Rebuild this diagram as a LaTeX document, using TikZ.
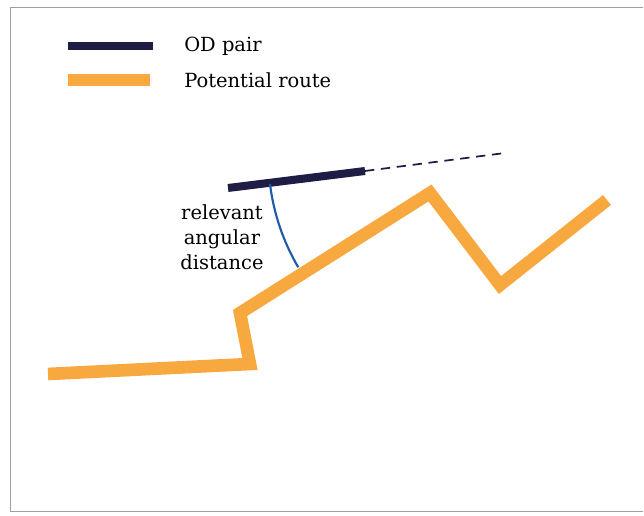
\documentclass[tikz,border=0pt]{standalone}
\usepackage{fontspec}
\setmainfont{DejaVu Serif}
\usetikzlibrary{calc}
\definecolor{odnavy}{RGB}{31,28,70}
\definecolor{routeorange}{RGB}{247,168,62}
\definecolor{arcblue}{RGB}{30,90,170}
\tikzset{
  odline/.style={color=odnavy, line width=6pt},
  routeline/.style={color=routeorange, line width=9.5pt, line join=miter},
  legendtext/.style={anchor=west, inner sep=0.75pt, font=\fontsize{14.6}{17}\selectfont},
}
\begin{document}
\begin{tikzpicture}[x=0.75pt,y=0.75pt,yscale=-1,xscale=1]
% frame
\useasboundingbox (0,0) rectangle (644,516);
\draw [color={rgb, 255:red, 160; green, 160; blue, 160 }, line width=0.4pt] (10,7) -- (643,7) (10,7) -- (10,511) -- (643,511);

% Legend
\draw [odline] (68,46) -- (153,46) ;
\node (odlabel) [legendtext] at (183,46) {OD pair};
\draw [routeline] (68,80) -- (150,80) ;
\node (routelabel) [legendtext] at (183,80) {Potential route};

% Potential route
\coordinate (r0) at (48,374);
\coordinate (r1) at (250,364);
\coordinate (r2) at (240,313);
\coordinate (r3) at (430,193);
\coordinate (r4) at (500,285);
\coordinate (r5) at (607,200);
\draw [routeline] (r0) -- (r1) -- (r2) -- (r3) -- (r4) -- (r5) ;

% OD pair and its extension
\coordinate (o) at (228,188);
\coordinate (d) at (365,171);
\coordinate (ext) at (505,153);
\draw [color=odnavy, line width=1.3pt, dash pattern=on 7pt off 5pt] (d) -- (ext) ;
\draw [odline] (o) -- (d) ;

% Angle arc
\draw [color=arcblue, line width=1.6pt] (270,184) arc [start angle=173, end angle=149.5, radius=216] ;

% Text Node
\node (anglabel) [align=center, inner sep=0.75pt, font=\fontsize{14.6}{18.8}\selectfont] at (222,237) {relevant\\angular\\distance};
\end{tikzpicture}
\end{document}
